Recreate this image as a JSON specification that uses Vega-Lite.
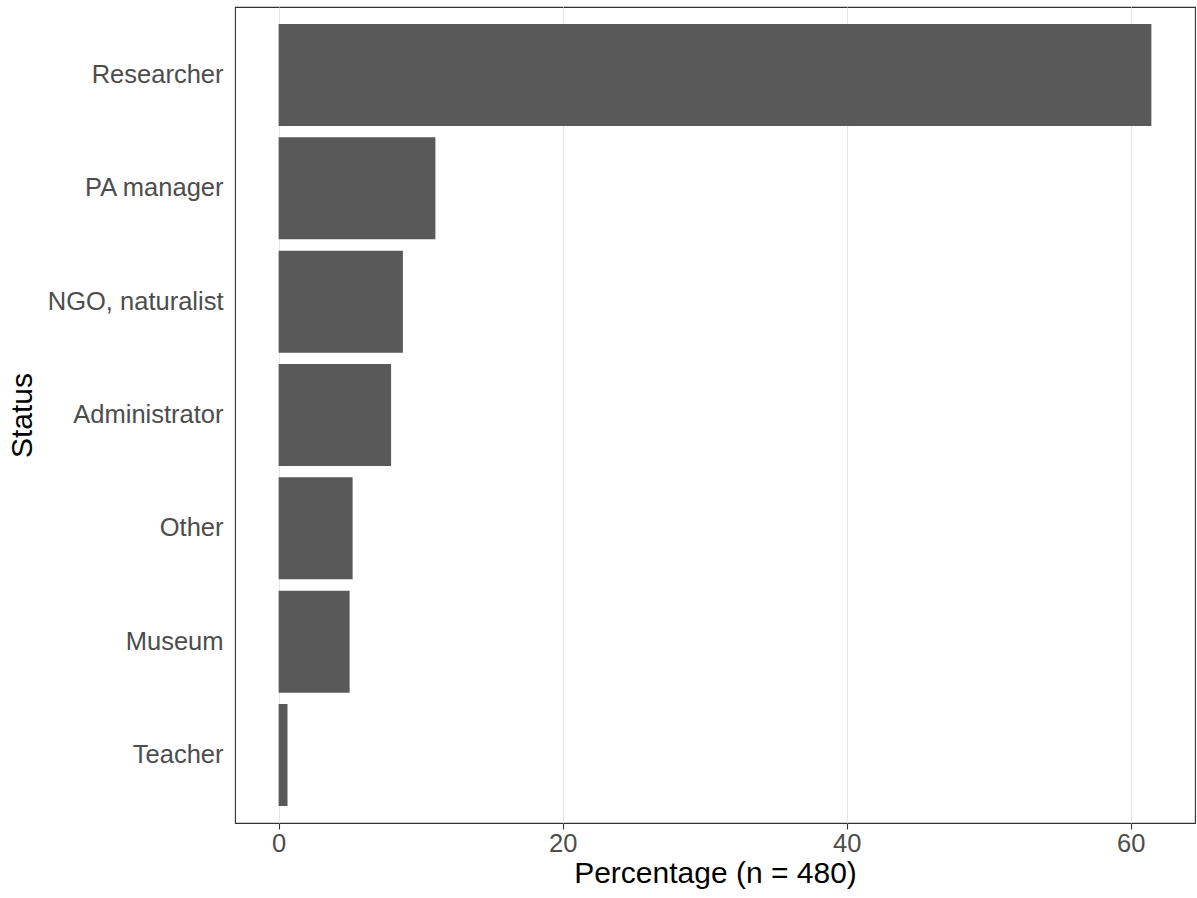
{
  "$schema": "https://vega.github.io/schema/vega-lite/v6.json",
  "autosize": {"type": "none"},
  "padding": {"left": 235, "top": 7, "right": 2, "bottom": 75},
  "width": 960,
  "height": 816,
  "background": "white",
  "config": {
    "font": "Liberation Sans",
    "view": {"stroke": "#333333", "strokeWidth": 1.1},
    "axis": {"domain": false, "labelFont": "Liberation Sans", "titleFont": "Liberation Sans"}
  },
  "data": {
    "values": [
      {"status": "Researcher", "pct": 61.46},
      {"status": "PA manager", "pct": 11.04},
      {"status": "NGO, naturalist", "pct": 8.75},
      {"status": "Administrator", "pct": 7.92},
      {"status": "Other", "pct": 5.21},
      {"status": "Museum", "pct": 5.0},
      {"status": "Teacher", "pct": 0.625}
    ]
  },
  "mark": {"type": "bar", "color": "#595959"},
  "encoding": {
    "y": {
      "field": "status",
      "type": "nominal",
      "sort": "-x",
      "scale": {"paddingInner": 0.1, "paddingOuter": 0.15},
      "axis": {
        "title": "Status",
        "titleFontSize": 30,
        "titleFontWeight": "normal",
        "titleColor": "#000000",
        "titlePadding": 10,
        "labelFontSize": 25.5,
        "labelColor": "#4D4D4D",
        "labelPadding": 12,
        "ticks": false,
        "grid": false
      }
    },
    "x": {
      "field": "pct",
      "type": "quantitative",
      "scale": {"domain": [-3.073, 64.533], "nice": false, "zero": false},
      "axis": {
        "title": "Percentage (n = 480)",
        "titleFontSize": 30,
        "titleFontWeight": "normal",
        "titleColor": "#000000",
        "titlePadding": 2,
        "labelFontSize": 25.5,
        "labelColor": "#4D4D4D",
        "labelPadding": 2,
        "values": [0, 20, 40, 60],
        "tickColor": "#333333",
        "tickSize": 6,
        "tickWidth": 1.1,
        "grid": true,
        "gridColor": "#E6E6E6",
        "gridWidth": 1.1
      }
    }
  }
}
